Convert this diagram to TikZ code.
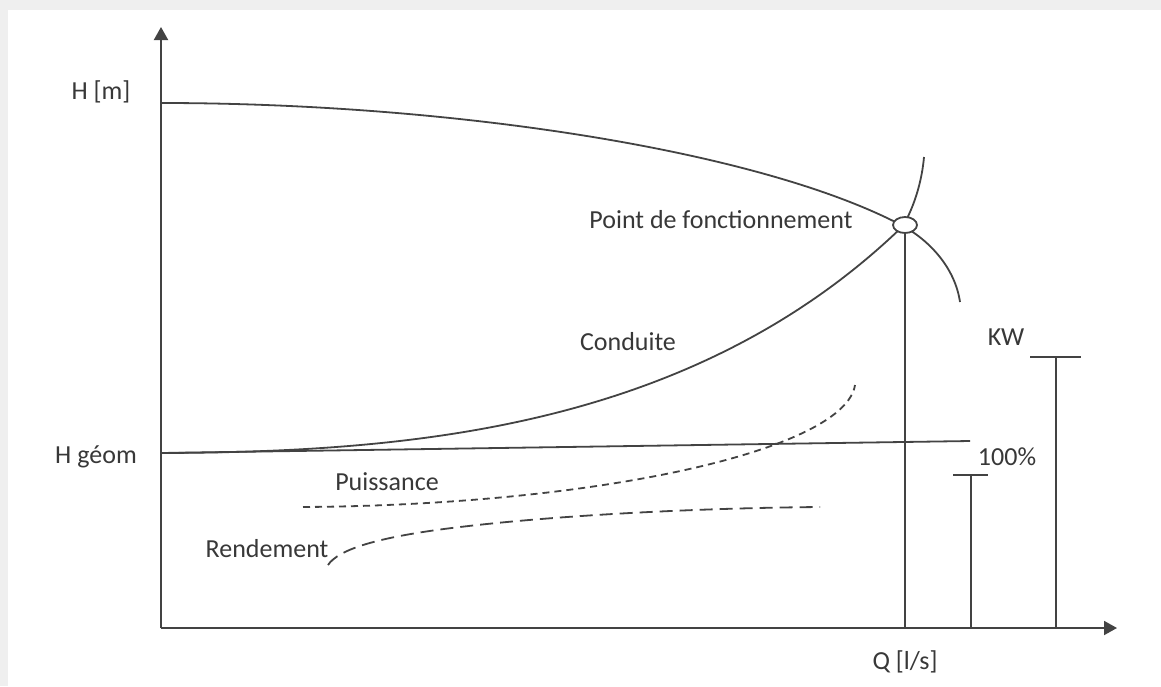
\documentclass[tikz,border=0pt]{standalone}
\usepackage{fontspec}
\setmainfont{Carlito}
\usetikzlibrary{arrows.meta,shapes.geometric}
\definecolor{ln}{HTML}{434343}
\definecolor{tx}{HTML}{383838}
\definecolor{frame}{HTML}{EFEFEF}
\begin{document}
\begin{tikzpicture}[x=1pt,y=-1pt,
  curve/.style={line width=1.8pt,draw=ln},
  axis/.style={line width=1.9pt,draw=ln,-{Triangle[length=13pt,width=14pt]}},
  shortdash/.style={curve,dash pattern=on 7pt off 5pt},
  longdash/.style={curve,dash pattern=on 13pt off 7pt},
  lbl/.style={text=tx,font=\fontsize{26}{30}\selectfont,inner sep=0pt},
  opoint/.style={ellipse,draw=ln,line width=1.8pt,fill=white,minimum width=24pt,minimum height=16pt,inner sep=0pt}]
\useasboundingbox (0,0) rectangle (1161,686);
\fill[frame] (0,0) rectangle (1161,686);
\fill[white] (8,10) rectangle (1161,686);
% axes
\coordinate (O) at (161,628);
\coordinate (Ytop) at (161,27);
\coordinate (Xend) at (1117,628);
\draw[axis] (O) -- (Ytop);
\draw[axis] (O) -- (Xend);
% H geom line
\coordinate (hg0) at (161,453);
\coordinate (hg1) at (970,441);
\draw[curve] (hg0) -- (hg1);
% pump curve
\draw[curve] (161,103) .. controls (450,103) and (760,150) .. (903,226) .. controls (930,241) and (955,268) .. (960,302);
% conduite curve
\draw[curve] (hg0) .. controls (400,452) and (690,432) .. (903,226) .. controls (915,205) and (922,180) .. (924,157);
% puissance (short dashes)
\draw[shortdash] (303,507) .. controls (600,505) and (845,450) .. (855,385);
% rendement (long dashes)
\draw[longdash] (328,565) .. controls (338,550) and (375,537) .. (460,527) .. controls (560,515) and (700,508) .. (820,507);
% operating point
\node[opoint] (op) at (905,225) {};
\draw[curve] (op.south) -- (op.south |- O);
% bars
\coordinate (b1) at (971,475);
\draw[curve] (b1) -- (b1 |- O);
\draw[curve] (953,475) -- (988,475);
\coordinate (b2) at (1056,357);
\draw[curve] (b2) -- (b2 |- O);
\draw[curve] (1030,357) -- (1081,357);
% labels
\node[lbl] (hm) at (101,92) {H [m]};
\node[lbl] (hgl) at (96,457) {H géom};
\node[lbl] (pf) at (721,220) {Point de fonctionnement};
\node[lbl] (cd) at (628,342) {Conduite};
\node[lbl] (pu) at (387,482) {Puissance};
\node[lbl] (re) at (267,549) {Rendement};
\node[lbl] (kw) at (1006,337) {KW};
\node[lbl] (pc) at (1007,457) {100\%};
\node[lbl] (q) at (905,662) {Q [l/s]};
\end{tikzpicture}
\end{document}
